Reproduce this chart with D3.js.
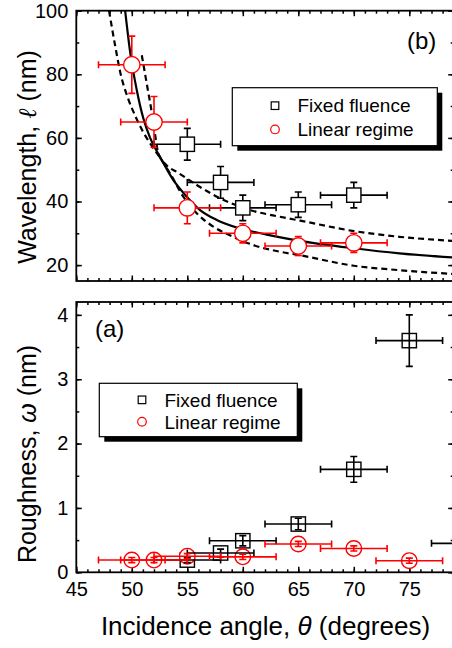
<!DOCTYPE html>
<html>
<head>
<meta charset="utf-8">
<script src="https://cdn.jsdelivr.net/npm/d3@7"></script>
<style>
  body { margin: 0; background: #fff; }
  svg { font-family: "Liberation Sans", Arial, sans-serif; }
</style>
</head>
<body>
<div id="chart-area"></div>
<script>
// top panel (b): wavelength
const angFixedB = [55, 58, 60, 65, 70]
const wlFixed = [58, 46, 38, 39, 42]
const wlFixedErr = [5, 5, 4, 4, 4]
const angFixedBErr = [3, 3, 3, 3, 3]

const angLinB = [50, 52, 55, 60, 65, 70]
const wlLin = [83, 65, 38, 30, 26, 27]
const wlLinErr = [9, 8, 5, 3, 3, 3]
const angLinBErr = [3, 3, 3, 3, 3, 3]

// fit curve and its bounds
const fitAng = [49.4, 49.85, 50.45, 51.05, 51.65, 52.55, 53.75, 54.95, 56.15, 57.65, 59.75, 62.15, 64.85, 70, 74.1, 79]
const fitVal = [100, 87, 75, 66, 60, 54, 46.7, 41.5, 37.3, 34.2, 31.5, 29.6, 27.8, 25.3, 23.7, 22.4]
const lowAng = [47.95, 48.5, 49.0, 49.6, 50.3, 51.0, 51.7, 52.4, 53.44, 54.64, 55.85, 57.34, 59.14, 60.95, 63.35, 65.15, 70, 74.1, 79]
const lowVal = [100, 89, 80, 73, 67, 62, 58, 54.5, 48.9, 41.5, 36.3, 32.1, 28.9, 26.3, 24.2, 23.1, 19.8, 18.4, 17.2]
const upAng = [50.9, 51.4, 51.8, 52.1, 52.4, 53.1, 54.1, 55.85, 57.95, 60.65, 63.35, 65.15, 70, 74.1, 79]
const upVal = [86, 76, 68, 61, 55, 51.5, 49.2, 45.2, 41, 37.3, 35.2, 34, 30.7, 28.9, 27.6]

// bottom panel (a): roughness
const angFixedA = [55, 58, 60, 65, 70, 75, 80]
const rFixed = [0.19, 0.30, 0.49, 0.75, 1.6, 3.6, 0.45]
const rFixedErr = [0.04, 0.06, 0.08, 0.09, 0.2, 0.4, 0.05]
const angFixedAErr = [3, 3, 3, 3, 3, 3, 3]

const angLinA = [50, 52, 55, 60, 65, 70, 75]
const rLin = [0.19, 0.19, 0.25, 0.24, 0.44, 0.37, 0.18]
const rLinErr = [0.04, 0.04, 0.04, 0.04, 0.04, 0.04, 0.04]
const angLinAErr = [3, 3, 3, 3, 3, 3, 3]

const legendLabels = ["Fixed fluence", "Linear regime"]

const WIDTH = 452, HEIGHT = 648
const LEFT = 76.3, RIGHT = 453.7
const TOP_B = { y0: 10.7, y1: 281 }
const TOP_A = { y0: 302, y1: 572.3 }
const RED = "#ff0000"

const svg = d3.select("#chart-area").append("svg")
    .attr("width", WIDTH)
    .attr("height", HEIGHT)

const x = d3.scaleLinear().domain([45, 79]).range([LEFT, RIGHT])
const yB = d3.scaleLinear().domain([15, 100]).range([TOP_B.y1, TOP_B.y0])
const yA = d3.scaleLinear().domain([0, 4.2]).range([TOP_A.y1, TOP_A.y0])

const zip = (a, b) => a.map((d, i) => [d, b[i]])

function frame(y, panel, id, yMajor, yMinor, showX) {
    svg.append("clipPath").attr("id", id)
        .append("rect")
        .attr("x", LEFT).attr("y", panel.y0)
        .attr("width", RIGHT - LEFT).attr("height", panel.y1 - panel.y0)

    const axes = svg.append("g").attr("class", "axes")
    const xMaj = d3.range(45, 80, 5), xMin = d3.range(45, 80, 1)

    // bottom
    axes.append("g").attr("transform", `translate(0,${panel.y1})`)
        .call(d3.axisBottom(x).tickValues(xMin).tickSize(-3).tickFormat(""))
    axes.append("g").attr("class", "xlab").attr("transform", `translate(0,${panel.y1})`)
        .call(d3.axisBottom(x).tickValues(xMaj).tickSize(-5.5).tickPadding(10)
            .tickFormat(showX ? d3.format("d") : ""))
    // top
    axes.append("g").attr("transform", `translate(0,${panel.y0})`)
        .call(d3.axisTop(x).tickValues(xMin).tickSize(-3).tickFormat(""))
    axes.append("g").attr("transform", `translate(0,${panel.y0})`)
        .call(d3.axisTop(x).tickValues(xMaj).tickSize(-5.5).tickFormat(""))
    // left
    axes.append("g").attr("transform", `translate(${LEFT},0)`)
        .call(d3.axisLeft(y).tickValues(yMinor).tickSize(-3).tickFormat(""))
    axes.append("g").attr("class", "ylab").attr("transform", `translate(${LEFT},0)`)
        .call(d3.axisLeft(y).tickValues(yMajor).tickSize(-5.5).tickPadding(8).tickFormat(d3.format("d")))
    // right
    axes.append("g").attr("transform", `translate(${RIGHT},0)`)
        .call(d3.axisRight(y).tickValues(yMinor).tickSize(-3).tickFormat(""))
    axes.append("g").attr("transform", `translate(${RIGHT},0)`)
        .call(d3.axisRight(y).tickValues(yMajor).tickSize(-5.5).tickFormat(""))

    axes.selectAll(".domain").remove()
    axes.selectAll(".tick line").attr("stroke", "#000").attr("stroke-width", 1.5)
    axes.selectAll(".tick text").attr("fill", "#000").style("font-size", "20px")
        .style("font-family", "'Liberation Sans', Arial, sans-serif")

    svg.append("rect")
        .attr("x", LEFT).attr("y", panel.y0)
        .attr("width", RIGHT - LEFT).attr("height", panel.y1 - panel.y0)
        .attr("fill", "none").attr("stroke", "#000").attr("stroke-width", 1.8)
}

function errorBars(g, y, xs, ys, xe, ye, color) {
    const cap = 3.5
    const eb = g.append("g").attr("stroke", color).attr("stroke-width", 1.6).attr("fill", "none")
    xs.forEach((d, i) => {
        const cx = x(d), cy = y(ys[i])
        const xl = x(d - xe[i]), xr = x(d + xe[i])
        const yt = y(ys[i] + ye[i]), yb = y(ys[i] - ye[i])
        eb.append("line").attr("x1", xl).attr("x2", xr).attr("y1", cy).attr("y2", cy)
        eb.append("line").attr("x1", xl).attr("x2", xl).attr("y1", cy - cap).attr("y2", cy + cap)
        eb.append("line").attr("x1", xr).attr("x2", xr).attr("y1", cy - cap).attr("y2", cy + cap)
        eb.append("line").attr("x1", cx).attr("x2", cx).attr("y1", yt).attr("y2", yb)
        eb.append("line").attr("x1", cx - cap).attr("x2", cx + cap).attr("y1", yt).attr("y2", yt)
        eb.append("line").attr("x1", cx - cap).attr("x2", cx + cap).attr("y1", yb).attr("y2", yb)
    })
}

function squares(g, y, xs, ys, side, fill) {
    g.append("g").selectAll("rect")
        .data(zip(xs, ys))
        .enter()
        .append("rect")
            .attr("x", d => x(d[0]) - side / 2)
            .attr("y", d => y(d[1]) - side / 2)
            .attr("width", side).attr("height", side)
            .attr("fill", fill).attr("stroke", "#000").attr("stroke-width", 1.4)
}

function circles(g, y, xs, ys, r, fill) {
    g.append("g").selectAll("circle")
        .data(zip(xs, ys))
        .enter()
        .append("circle")
            .attr("cx", d => x(d[0]))
            .attr("cy", d => y(d[1]))
            .attr("r", r)
            .attr("fill", fill).attr("stroke", RED).attr("stroke-width", 1.4)
}

function legend(bx, by, bw, bh) {
    const lg = svg.append("g").attr("class", "legend")
    lg.append("rect").attr("x", bx + 5).attr("y", by + 5).attr("width", bw).attr("height", bh).attr("fill", "#000")
    lg.append("rect").attr("x", bx).attr("y", by).attr("width", bw).attr("height", bh)
        .attr("fill", "#fff").attr("stroke", "#000").attr("stroke-width", 1.2)
    const mx = bx + 42.7
    const r1 = by + bh * 0.31, r2 = by + bh * 0.72
    lg.append("rect").attr("x", mx - 3.8).attr("y", r1 - 3.8).attr("width", 7.6).attr("height", 7.6)
        .attr("fill", "#fff").attr("stroke", "#000").attr("stroke-width", 1.2)
    lg.append("circle").attr("cx", mx).attr("cy", r2).attr("r", 4.3)
        .attr("fill", "#fff").attr("stroke", RED).attr("stroke-width", 1.2)
    lg.selectAll("text.lab")
        .data(legendLabels)
        .enter()
        .append("text")
            .attr("class", "lab")
            .attr("x", mx + 22.5)
            .attr("y", (d, i) => (i === 0 ? r1 : r2) + 6.8)
            .style("font-size", "19px")
            .text(d => d)
}

// ---------- panel (b) ----------
frame(yB, TOP_B, "clipB", [20, 40, 60, 80, 100], d3.range(20, 101, 10), false)
const gB = svg.append("g").attr("clip-path", "url(#clipB)")

const line = d3.line()
    .curve(d3.curveMonotoneX)
    .x(d => x(d[0]))
    .y(d => yB(d[1]))

gB.append("path").attr("d", line(zip(fitAng, fitVal)))
    .attr("fill", "none").attr("stroke", "#000").attr("stroke-width", 2.2)
gB.append("path").attr("d", line(zip(lowAng, lowVal)))
    .attr("fill", "none").attr("stroke", "#000").attr("stroke-width", 2.2).attr("stroke-dasharray", "6,4")
gB.append("path").attr("d", line(zip(upAng, upVal)))
    .attr("fill", "none").attr("stroke", "#000").attr("stroke-width", 2.2).attr("stroke-dasharray", "6,4")

errorBars(gB, yB, angFixedB, wlFixed, angFixedBErr, wlFixedErr, "#000")
errorBars(gB, yB, angLinB, wlLin, angLinBErr, wlLinErr, RED)
squares(gB, yB, angFixedB, wlFixed, 14.3, "#fff")
circles(gB, yB, angLinB, wlLin, 8.2, "#fff")

svg.append("text").attr("x", 407).attr("y", 48.5).style("font-size", "24px").text("(b)")
legend(232.3, 87.7, 205, 58)

// ---------- panel (a) ----------
frame(yA, TOP_A, "clipA", [0, 1, 2, 3, 4], d3.range(0, 4.01, 0.5), true)
const gA = svg.append("g").attr("clip-path", "url(#clipA)")

squares(gA, yA, angFixedA, rFixed, 14.3, "#fff")
circles(gA, yA, angLinA, rLin, 7.8, "#fff")
errorBars(gA, yA, angFixedA, rFixed, angFixedAErr, rFixedErr, "#000")
errorBars(gA, yA, angLinA, rLin, angLinAErr, rLinErr, RED)

svg.append("text").attr("x", 95).attr("y", 337).style("font-size", "24px").text("(a)")
legend(99.3, 383.3, 198, 53.4)

// ---------- axis titles ----------
const yTitleB = svg.append("text")
    .attr("transform", "translate(36,157) rotate(-90)")
    .attr("text-anchor", "middle")
    .style("font-size", "25px")
yTitleB.append("tspan").text("Wavelength, ")
yTitleB.append("tspan").style("font-style", "italic").style("font-family", "'DejaVu Serif', serif").text("ℓ")
yTitleB.append("tspan").text(" (nm)")

const yTitleA = svg.append("text")
    .attr("transform", "translate(36,454) rotate(-90)")
    .attr("text-anchor", "middle")
    .style("font-size", "25px")
yTitleA.append("tspan").text("Roughness, ")
yTitleA.append("tspan").style("font-style", "italic").text("ω")
yTitleA.append("tspan").text(" (nm)")

const xTitle = svg.append("text")
    .attr("x", 265.5).attr("y", 635)
    .attr("text-anchor", "middle")
    .style("font-size", "26px")
xTitle.append("tspan").text("Incidence angle, ")
xTitle.append("tspan").style("font-style", "italic").text("θ")
xTitle.append("tspan").text(" (degrees)")
</script>
</body>
</html>
